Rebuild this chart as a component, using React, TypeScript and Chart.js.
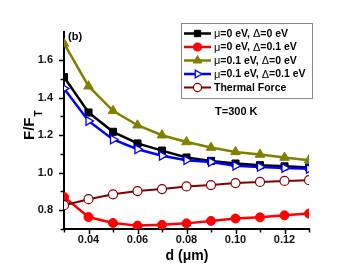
import React, { useEffect, useRef } from "react";
import { Chart, registerables } from "chart.js";
import { drawPoint } from "chart.js/helpers";

Chart.register(...registerables);

const dValues = [0.03, 0.04, 0.05, 0.06, 0.07, 0.08, 0.09, 0.1, 0.11, 0.12, 0.13];
const mu0Delta0 = [1.51, 1.321, 1.218, 1.156, 1.118, 1.081, 1.063, 1.049, 1.04, 1.034, 1.028];
const mu0Delta01 = [0.871, 0.764, 0.732, 0.718, 0.722, 0.73, 0.743, 0.756, 0.762, 0.773, 0.782];
const mu01Delta0 = [1.689, 1.461, 1.33, 1.253, 1.2, 1.164, 1.134, 1.111, 1.097, 1.081, 1.067];
const mu01Delta01 = [1.449, 1.276, 1.177, 1.125, 1.09, 1.067, 1.057, 1.037, 1.031, 1.025, 1.021];
const thermalForce = [0.827, 0.859, 0.885, 0.902, 0.913, 0.927, 0.934, 0.945, 0.951, 0.956, 0.96];

const seriesLabels = [
  "μ=0 eV, Δ=0 eV",
  "μ=0 eV, Δ=0.1 eV",
  "μ=0.1 eV, Δ=0 eV",
  "μ=0.1 eV, Δ=0.1 eV",
  "Thermal Force",
];
const xTickLabels = ["0.04", "0.06", "0.08", "0.10", "0.12"];
const yTickLabels = ["0.8", "1.0", "1.2", "1.4", "1.6"];
const xTitle = "d (μm)";
const yTitleMain = "F/F";
const yTitleSub = "T";
const panelLabel = "(b)";
const tempLabel = "T=300 K";

const FONT = "'Liberation Sans', Arial, sans-serif";

function pts(vals: number[]) {
  return dValues.map((x, i) => ({ x, y: vals[i] }));
}

const overlayPlugin = {
  id: "overlay",
  afterDraw(chart: any) {
    const ctx: CanvasRenderingContext2D = chart.ctx;
    const xs = chart.scales.x;
    const ys = chart.scales.y;
    const area = chart.chartArea;
    ctx.save();
    // tick marks
    ctx.strokeStyle = "#000";
    ctx.lineWidth = 1.5;
    xs.ticks.forEach((t: any) => {
      const v = t.value;
      if (Math.abs(v * 100 - Math.round(v * 100)) > 1e-6) return;
      const major = Math.round(v * 100) % 2 === 0;
      const px = Math.round(xs.getPixelForValue(v)) + 0.5;
      ctx.beginPath();
      ctx.moveTo(px, area.bottom);
      ctx.lineTo(px, area.bottom + (major ? 5 : 3.5));
      ctx.stroke();
    });
    ys.ticks.forEach((t: any) => {
      const v = t.value;
      if (Math.abs(v * 10 - Math.round(v * 10)) > 1e-6) return;
      const major = Math.round(v * 10) % 2 === 0;
      const py = Math.round(ys.getPixelForValue(v)) + 0.5;
      ctx.beginPath();
      ctx.moveTo(area.left, py);
      ctx.lineTo(area.left - (major ? 5 : 3.5), py);
      ctx.stroke();
    });

    // axis titles
    ctx.fillStyle = "#000";
    ctx.font = `bold 14px ${FONT}`;
    ctx.textAlign = "center";
    ctx.textBaseline = "alphabetic";
    ctx.fillText(xTitle, (area.left + area.right) / 2 + 0.5, 260);

    ctx.save();
    ctx.translate(34, 140);
    ctx.rotate(-Math.PI / 2);
    ctx.textAlign = "left";
    ctx.font = `bold 15px ${FONT}`;
    ctx.fillText(yTitleMain, 0, 0);
    const w = ctx.measureText(yTitleMain).width;
    ctx.font = `bold 10px ${FONT}`;
    ctx.fillText(yTitleSub, w + 1, 8);
    ctx.restore();

    // annotations
    ctx.font = `bold 11px ${FONT}`;
    ctx.textAlign = "left";
    ctx.textBaseline = "middle";
    ctx.fillText(panelLabel, 68, 37);
    ctx.fillText(tempLabel, 215, 112);

    // legend
    const bx = 181, by = 23, bw = 131, bh = 75;
    ctx.fillStyle = "#fff";
    ctx.fillRect(bx, by, bw, bh);
    ctx.strokeStyle = "#8a8a8a";
    ctx.lineWidth = 1;
    ctx.strokeRect(bx + 0.5, by + 0.5, bw, bh);
    chart.data.datasets.forEach((ds: any, i: number) => {
      const cy = 33.5 + i * 13.5;
      ctx.strokeStyle = ds.borderColor;
      ctx.lineWidth = ds.borderWidth;
      ctx.beginPath();
      ctx.moveTo(184, cy);
      ctx.lineTo(211, cy);
      ctx.stroke();
      ctx.fillStyle = ds.pointBackgroundColor;
      ctx.strokeStyle = ds.pointBorderColor;
      ctx.lineWidth = ds.pointBorderWidth;
      drawPoint(ctx, {
        pointStyle: ds.pointStyle,
        rotation: ds.pointRotation || 0,
        radius: ds.pointRadius * 0.9,
        borderWidth: ds.pointBorderWidth,
      } as any, 197.5, cy);
      let tx = 214;
      ctx.fillStyle = "#000";
      ctx.textAlign = "left";
      ctx.textBaseline = "middle";
      const label: string = ds.label;
      const parts = label.split(/([μΔ])/);
      parts.forEach((p) => {
        if (!p) return;
        if (p === "μ" || p === "Δ") ctx.font = `11px ${FONT}`;
        else ctx.font = `bold 10.5px ${FONT}`;
        ctx.fillText(p, tx, cy + 0.5);
        tx += ctx.measureText(p).width;
      });
    });
    ctx.restore();
  },
};

export default function App() {
  const ref = useRef<HTMLCanvasElement>(null);
  useEffect(() => {
    if (!ref.current) return;
    const chart = new Chart(ref.current, {
      type: "line",
      data: {
        datasets: [
          {
            label: seriesLabels[0],
            data: pts(mu0Delta0),
            borderColor: "#000000",
            borderWidth: 2.5,
            pointStyle: "rect",
            pointRadius: 5,
            pointBackgroundColor: "#000000",
            pointBorderColor: "#000000",
            pointBorderWidth: 1,
            order: 4,
          },
          {
            label: seriesLabels[1],
            data: pts(mu0Delta01),
            borderColor: "#ff0000",
            borderWidth: 2.5,
            pointStyle: "circle",
            pointRadius: 4.5,
            pointBackgroundColor: "#ff0000",
            pointBorderColor: "#ff0000",
            pointBorderWidth: 1,
            order: 1,
          },
          {
            label: seriesLabels[2],
            data: pts(mu01Delta0),
            borderColor: "#808000",
            borderWidth: 2.5,
            pointStyle: "triangle",
            pointRadius: 5.5,
            pointBackgroundColor: "#808000",
            pointBorderColor: "#808000",
            pointBorderWidth: 1,
            order: 3,
          },
          {
            label: seriesLabels[3],
            data: pts(mu01Delta01),
            borderColor: "#0000ff",
            borderWidth: 2.5,
            pointStyle: "triangle",
            pointRotation: 90,
            pointRadius: 5,
            pointBackgroundColor: "#ffffff",
            pointBorderColor: "#0000ff",
            pointBorderWidth: 1.3,
            order: 2,
          },
          {
            label: seriesLabels[4],
            data: pts(thermalForce),
            borderColor: "#800000",
            borderWidth: 2,
            pointStyle: "circle",
            pointRadius: 4.5,
            pointBackgroundColor: "#ffffff",
            pointBorderColor: "#800000",
            pointBorderWidth: 1.2,
            order: 0,
          },
        ] as any,
      },
      options: {
        responsive: false,
        animation: false,
        devicePixelRatio: 1,
        layout: { padding: { left: 0, top: 32, right: 50, bottom: 0 } },
        elements: { line: { tension: 0 } },
        datasets: { line: { clip: 0 } } as any,
        plugins: { legend: { display: false }, tooltip: { enabled: false } },
        scales: {
          x: {
            type: "linear",
            min: 0.03,
            max: 0.13,
            z: 1,
            afterFit: (s: any) => {
              s.height = 46;
            },
            grid: { drawOnChartArea: false, drawTicks: false },
            border: { display: true, color: "#000", width: 2 },
            ticks: {
              stepSize: 0.01,
              autoSkip: false,
              maxRotation: 0,
              padding: 4,
              color: "#111",
              font: { family: FONT, size: 11, weight: "bold" },
              callback: (v: any) => {
                const lbl = (Number(v)).toFixed(2);
                return xTickLabels.includes(lbl) ? lbl : "";
              },
            },
          },
          y: {
            type: "linear",
            min: 0.7,
            max: 1.75,
            z: 1,
            afterFit: (s: any) => {
              s.width = 64;
            },
            grid: { drawOnChartArea: false, drawTicks: false },
            border: { display: true, color: "#000", width: 2 },
            ticks: {
              stepSize: 0.1,
              autoSkip: false,
              padding: 11,
              color: "#111",
              font: { family: FONT, size: 11, weight: "bold" },
              callback: (v: any) => {
                const lbl = (Number(v)).toFixed(1);
                return yTickLabels.includes(lbl) && Math.abs(Number(v) - Number(lbl)) < 1e-6 ? lbl : "";
              },
            },
          },
        },
      } as any,
      plugins: [overlayPlugin],
    });
    return () => chart.destroy();
  }, []);
  return (
    <div style={{ position: "absolute", left: 0, top: 0, width: 359, height: 275, background: "#fff" }}>
      <canvas ref={ref} width={359} height={275} style={{ width: 359, height: 275 }} />
    </div>
  );
}
